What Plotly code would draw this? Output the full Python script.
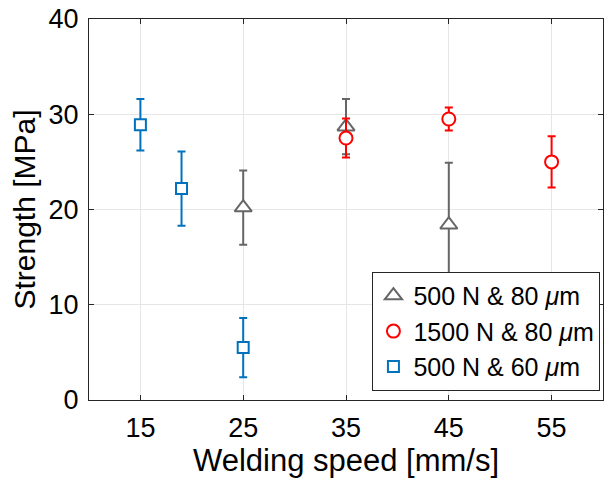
import plotly.graph_objects as go

# Data
gray_x = [25, 35, 45]
gray_y = [20.2, 28.7, 18.4]
gray_err = [3.9, 2.9, 6.5]

red_x = [35, 45, 55]
red_y = [27.5, 29.5, 25.0]
red_err = [2.05, 1.2, 2.7]

blue_x = [15, 19, 25]
blue_y = [28.9, 22.2, 5.5]
blue_err = [2.7, 3.9, 3.1]

labels = ["500 N & 80 <i>μ</i>m", "1500 N & 80 <i>μ</i>m", "500 N & 60 <i>μ</i>m"]
x_ticks = [15, 25, 35, 45, 55]
y_ticks = [0, 10, 20, 30, 40]

FONT = "Liberation Sans, Arial, Helvetica, sans-serif"

fig = go.Figure()

def add(x, y, err, color, symbol, size, name):
    fig.add_trace(go.Scatter(
        x=x, y=y, mode="markers", name=name,
        marker=dict(symbol=symbol, size=size, color="white",
                    line=dict(color=color, width=2)),
        error_y=dict(type="data", array=err, visible=True,
                     color=color, thickness=2, width=4),
    ))

add(gray_x, gray_y, gray_err, "#666666", "triangle-up", 15, labels[0])
add(red_x, red_y, red_err, "#FF0000", "circle", 13, labels[1])
add(blue_x, blue_y, blue_err, "#0072BD", "square", 11, labels[2])

axis_common = dict(
    showline=True, linecolor="#262626", linewidth=1, mirror="ticks",
    ticks="inside", ticklen=5, tickcolor="#262626", tickwidth=1,
    showgrid=True, gridcolor="#e6e6e6", gridwidth=1, zeroline=False,
    tickfont=dict(family=FONT, size=27, color="black"),
)

fig.update_layout(
    width=608, height=485,
    margin=dict(l=89, r=5, t=19, b=85),
    paper_bgcolor="white", plot_bgcolor="white",
    font=dict(family=FONT, color="black"),
    showlegend=True,
    legend=dict(
        x=0.995, y=0.024, xanchor="right", yanchor="bottom",
        bordercolor="#262626", borderwidth=1, bgcolor="white",
        font=dict(family=FONT, size=25, color="black"),
        itemwidth=30, tracegroupgap=0,
    ),
    xaxis=dict(range=[10, 60], tickvals=x_ticks,
               title=dict(text="Welding speed [mm/s]",
                          font=dict(family=FONT, size=31, color="black"), standoff=6),
               ticklabelstandoff=4, **axis_common),
    yaxis=dict(range=[0, 40], tickvals=y_ticks,
               title=dict(text="Strength [MPa]",
                          font=dict(family=FONT, size=30, color="black"), standoff=4),
               ticklabelstandoff=4, **axis_common),
)

fig.write_html("out.html", config={"displayModeBar": False})
